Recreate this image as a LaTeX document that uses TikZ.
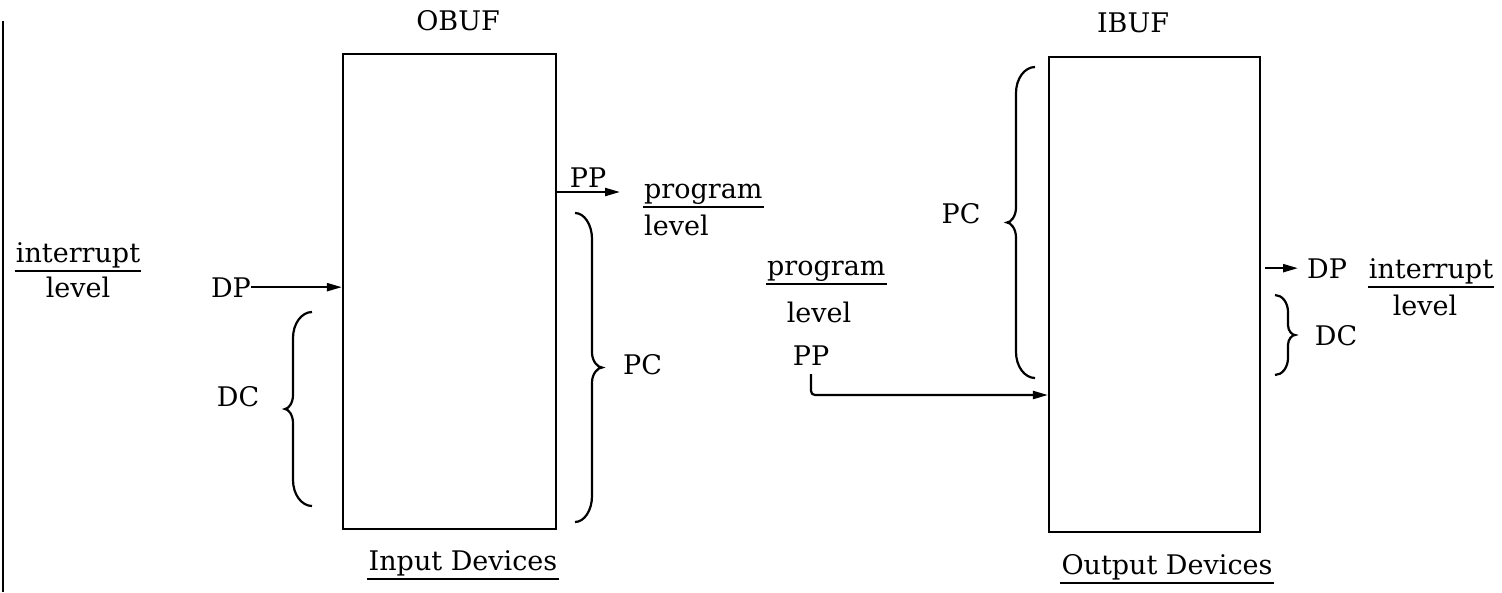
\documentclass[tikz,border=0pt]{standalone}
\usepackage{fontspec}
\setmainfont{DejaVu Serif}
\usetikzlibrary{arrows.meta}
\tikzset{
  lbl/.style={inner sep=0pt, anchor=base, font=\fontsize{27}{32}\selectfont},
  bufbox/.style={draw, line width=2.2pt, inner sep=0pt},
  conn/.style={line width=2.2pt, -{Triangle[length=15pt,width=8pt]}},
  bracestyle/.style={line width=2.2pt},
  uline/.style={line width=2pt},
  frameline/.style={line width=2.2pt},
}
% #1 end x, #2 mid x, #3 tip x, #4 top y, #5 bottom y, #6 hook length, #7 tip length
\newcommand{\curlybrace}[7]{%
  \draw[bracestyle] (#1,#4) .. controls ({#2+0.45*(#1-#2)},#4) and (#2,{#4+0.45*#6}) .. (#2,{#4+#6})
    -- (#2,{(#4+#5)/2-#7}) .. controls (#2,{(#4+#5)/2-0.4*#7}) and ({#3+0.4*(#2-#3)},{(#4+#5)/2}) .. (#3,{(#4+#5)/2})
    .. controls ({#3+0.4*(#2-#3)},{(#4+#5)/2}) and (#2,{(#4+#5)/2+0.4*#7}) .. (#2,{(#4+#5)/2+#7})
    -- (#2,{#5-#6}) .. controls (#2,{#5-0.45*#6}) and ({#2+0.45*(#1-#2)},#5) .. (#1,#5);}
\newcommand{\ulineunder}[1]{%
  \draw[uline] ([xshift=-1pt,yshift=-8.5pt]#1.base west) -- ([xshift=1pt,yshift=-8.5pt]#1.base east);}
\begin{document}
\begin{tikzpicture}[x=1pt,y=-1pt]
\useasboundingbox (0,0) rectangle (1502,592);

% left frame line
\coordinate (ftop) at (3,21);
\coordinate (fbot) at (3,592);
\draw[frameline] (ftop) -- (fbot);

% buffers
\node[bufbox, minimum width=213pt, minimum height=475pt] (obuf) at (449.5,291.5) {};
\node[bufbox, minimum width=211pt, minimum height=475pt] (ibuf) at (1154.5,294.5) {};

% titles
\node[lbl] (obuflbl) at (458,30) {OBUF};
\node[lbl] (ibuflbl) at (1133,32) {IBUF};
\node[lbl] (indev) at (463,570) {Input Devices};
\node[lbl] (outdev) at (1167,574) {Output Devices};
\ulineunder{indev}
\ulineunder{outdev}

% left side
\node[lbl] (intl) at (78,262) {interrupt};
\node[lbl] (levl) at (78,297) {level};
\ulineunder{intl}
\node[lbl] (dpl) at (231,297) {DP};
\node[lbl] (dcl) at (238,406) {DC};
\draw[conn] (dpl.east) -- (dpl.east -| obuf.west);
\curlybrace{312}{293}{285}{312}{506}{26}{14}

% right of OBUF
\node[lbl] (ppo) at (588,187) {PP};
\coordinate (pptip) at (620,192);
\draw[conn] (pptip -| obuf.east) -- (pptip);
\node[lbl, anchor=base west] (prog1) at (644,198) {program};
\node[lbl, anchor=base west] (lev1) at (644,235) {level};
\ulineunder{prog1}
\curlybrace{575}{592}{602}{213}{522}{26}{15}
\node[lbl, anchor=base west] (pco) at (623,374) {PC};

% middle
\node[lbl, anchor=base west] (prog2) at (767,275) {program};
\ulineunder{prog2}
\node[lbl] (lev2) at (819,322) {level};
\node[lbl] (ppm) at (811,365) {PP};
\coordinate (ppin) at (1049,395);
\draw[conn, rounded corners=4pt] ([yshift=-9pt]ppm.south) |- (ppin -| ibuf.west);

% left of IBUF
\curlybrace{1035}{1016}{1007}{67}{378}{26}{15}
\node[lbl] (pci) at (961,223) {PC};

% right of IBUF
\node[lbl, anchor=base west] (dpr) at (1307,278) {DP};
\draw[conn] ([xshift=4pt]ibuf.east |- dpr.west) -- ([xshift=-9pt]dpr.west);
\node[lbl] (intr) at (1431,278) {interrupt};
\node[lbl] (levr) at (1425,315) {level};
\ulineunder{intr}
\curlybrace{1275}{1288}{1295}{295}{375}{17}{10}
\node[lbl] (dcr) at (1336,345) {DC};
\end{tikzpicture}
\end{document}
